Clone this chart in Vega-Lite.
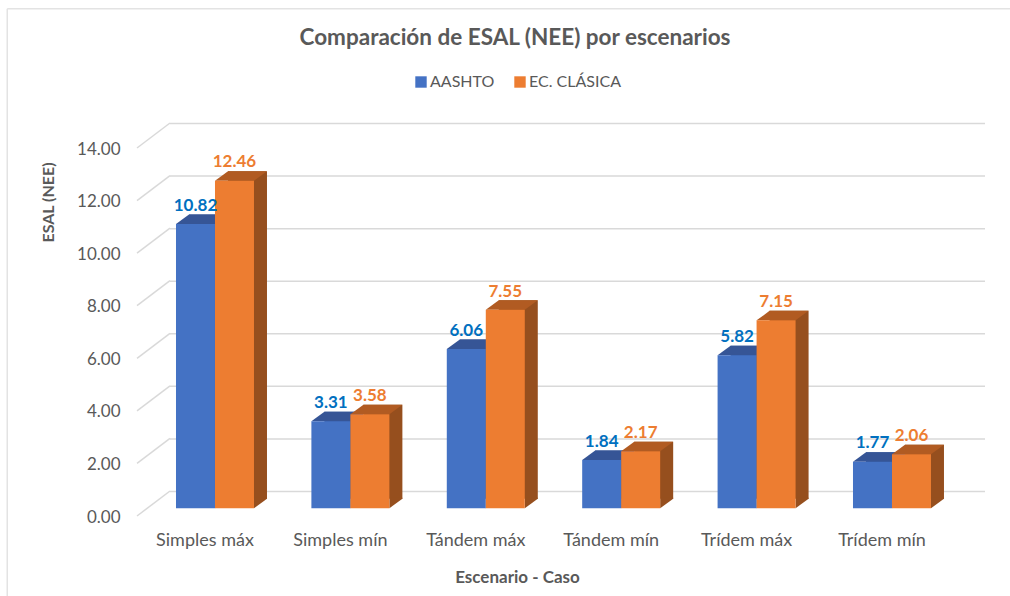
{
"$schema":"https://vega.github.io/schema/vega-lite/v6.json",
"width":848,"height":368,
"autosize":"none",
"padding":{"left":137,"top":148,"right":25,"bottom":80},
"background":"white",
"config":{"view":{"stroke":null},"font":"Lato"},
"title":{"text":"Comparación de ESAL (NEE) por escenarios","font":"Lato","fontSize":22.5,"fontWeight":"bold","color":"#595959","anchor":"middle","dx":-46,"offset":0,"dy":42},
"datasets":{
"barras":[
{"caso":"Simples máx","serie":"AASHTO","valor":10.82},{"caso":"Simples máx","serie":"EC. CLÁSICA","valor":12.46},
{"caso":"Simples mín","serie":"AASHTO","valor":3.31},{"caso":"Simples mín","serie":"EC. CLÁSICA","valor":3.58},
{"caso":"Tándem máx","serie":"AASHTO","valor":6.06},{"caso":"Tándem máx","serie":"EC. CLÁSICA","valor":7.55},
{"caso":"Tándem mín","serie":"AASHTO","valor":1.84},{"caso":"Tándem mín","serie":"EC. CLÁSICA","valor":2.17},
{"caso":"Trídem máx","serie":"AASHTO","valor":5.82},{"caso":"Trídem máx","serie":"EC. CLÁSICA","valor":7.15},
{"caso":"Trídem mín","serie":"AASHTO","valor":1.77},{"caso":"Trídem mín","serie":"EC. CLÁSICA","valor":2.06}
],
"marcas":[{"v":0},{"v":2},{"v":4},{"v":6},{"v":8},{"v":10},{"v":12},{"v":14}]
},
"resolve":{"scale":{"x":"independent"},"axis":{"x":"independent"}},
"layer":[
{"mark":{"type":"rule","color":"#E3E3E3","strokeWidth":1.5},
 "data":{"values":[{"k":1}]},
 "encoding":{"x":{"datum":-0.153,"type":"quantitative","scale":{"domain":[0,1]},"axis":null},"y":{"datum":19.3,"type":"quantitative","scale":{"domain":[0,14],"nice":false},"axis":{"title":"ESAL (NEE)","titleFont":"Lato","titleFontSize":16,"titleFontWeight":"bold","titleColor":"#595959","titleX":-81,"titleY":54,"labelFont":"Lato","labelFontSize":17,"labelColor":"#595959","labelPadding":17,"labelOffset":1,"format":".2f","values":[0,2,4,6,8,10,12,14],"ticks":false,"domain":false,"grid":false}},"y2":{"datum":-3.04}}},
{"mark":{"type":"rule","color":"#E3E3E3","strokeWidth":1.5},
 "data":{"values":[{"k":1}]},
 "encoding":{"x":{"datum":-0.153,"type":"quantitative","scale":{"domain":[0,1]},"axis":null},"x2":{"datum":1.03},"y":{"datum":19.3,"type":"quantitative"}}},
{"mark":{"type":"rule","color":"#D9D9D9","strokeWidth":1.5,"yOffset":-24.5},
 "data":{"name":"marcas"},
 "encoding":{"x":{"datum":0.0389,"type":"quantitative","scale":{"domain":[0,1]},"axis":null},"x2":{"datum":1},"y":{"field":"v","type":"quantitative"}}},
{"mark":{"type":"point","shape":"M0,0L33,-25","filled":false,"stroke":"#D9D9D9","strokeWidth":1.5,"size":4,"opacity":1},
 "data":{"name":"marcas"},
 "encoding":{"x":{"datum":0,"type":"quantitative","scale":{"domain":[0,1]},"axis":null},"y":{"field":"v","type":"quantitative"}}},
{"mark":{"type":"bar","yOffset":-17.2,"y2Offset":-17.2},
 "data":{"name":"barras"},
 "encoding":{
  "x":{"field":"caso","type":"nominal","sort":null,"axis":null,"scale":{"paddingInner":0,"paddingOuter":0.1315,"align":0.654}},
  "xOffset":{"field":"serie","type":"nominal","sort":null,"scale":{"paddingInner":0,"paddingOuter":0.736}},
  "y":{"field":"valor","type":"quantitative"},
  "color":{"condition":{"test":"datum.serie==='AASHTO'","value":"#2F5597"},"value":"#964F1E"}}},
{"mark":{"type":"point","shape":"M19.5,0L32.5,-9.5L32.5,-10.5L19.5,-10.5Z","filled":true,"size":4,"opacity":1,"yOffset":-7.7},
 "data":{"name":"barras"},
 "encoding":{
  "x":{"field":"caso","type":"nominal","sort":null,"axis":null,"scale":{"paddingInner":0,"paddingOuter":0.1315,"align":0.289}},
  "xOffset":{"field":"serie","type":"nominal","sort":null,"scale":{"paddingInner":0,"paddingOuter":0.736}},
  "y":{"datum":0,"type":"quantitative"},
  "color":{"condition":{"test":"datum.serie==='AASHTO'","value":"#2F5597"},"value":"#964F1E"}}},
{"mark":{"type":"point","shape":"M-19.5,0L19.5,0L32.5,-9.5L-6.5,-9.5Z","filled":true,"size":4,"opacity":1,"yOffset":-7.7},
 "data":{"name":"barras"},
 "encoding":{
  "x":{"field":"caso","type":"nominal","sort":null,"axis":null,"scale":{"paddingInner":0,"paddingOuter":0.1315,"align":0.289}},
  "xOffset":{"field":"serie","type":"nominal","sort":null,"scale":{"paddingInner":0,"paddingOuter":0.736}},
  "y":{"field":"valor","type":"quantitative"},
  "color":{"condition":{"test":"datum.serie==='AASHTO'","value":"#365596"},"value":"#B15B22"}}},
{"mark":{"type":"bar","yOffset":-7.7,"y2Offset":-7.7},
 "data":{"name":"barras"},
 "encoding":{
  "x":{"field":"caso","type":"nominal","sort":null,"scale":{"paddingInner":0,"paddingOuter":0.1315,"align":0.289},
   "axis":{"title":"Escenario - Caso","titleFont":"Lato","titleFontSize":17,"titleFontWeight":"bold","titleColor":"#595959","titleX":380,"titleY":53,"labelFont":"Lato","labelFontSize":18,"labelColor":"#595959","labelAngle":0,"labelOffset":-10,"labelPadding":15,"ticks":false,"domain":false,"grid":false}},
  "xOffset":{"field":"serie","type":"nominal","sort":null,"scale":{"paddingInner":0,"paddingOuter":0.736}},
  "y":{"field":"valor","type":"quantitative"},
  "color":{"field":"serie","type":"nominal","sort":null,"scale":{"domain":["AASHTO","EC. CLÁSICA"],"range":["#4472C4","#ED7D31"]},
   "legend":{"title":null,"orient":"none","direction":"horizontal","legendX":276,"legendY":-74,"symbolType":"square","symbolSize":130,"symbolOpacity":1,"labelFont":"Lato","labelFontSize":16,"labelColor":"#595959","labelOffset":1,"columnPadding":17}}}},
{"mark":{"type":"text","font":"Lato","fontSize":17,"fontWeight":"bold","dy":-26,"baseline":"middle","align":"center"},
 "data":{"name":"barras"},
 "encoding":{
  "x":{"field":"caso","type":"nominal","sort":null,"axis":null,"scale":{"paddingInner":0,"paddingOuter":0.1315,"align":0.289}},
  "xOffset":{"field":"serie","type":"nominal","sort":null,"scale":{"paddingInner":0,"paddingOuter":0.736}},
  "y":{"field":"valor","type":"quantitative"},
  "text":{"field":"valor","type":"quantitative","format":".2f"},
  "color":{"condition":{"test":"datum.serie==='AASHTO'","value":"#0070C0"},"value":"#ED7D31"}}}
]
}
